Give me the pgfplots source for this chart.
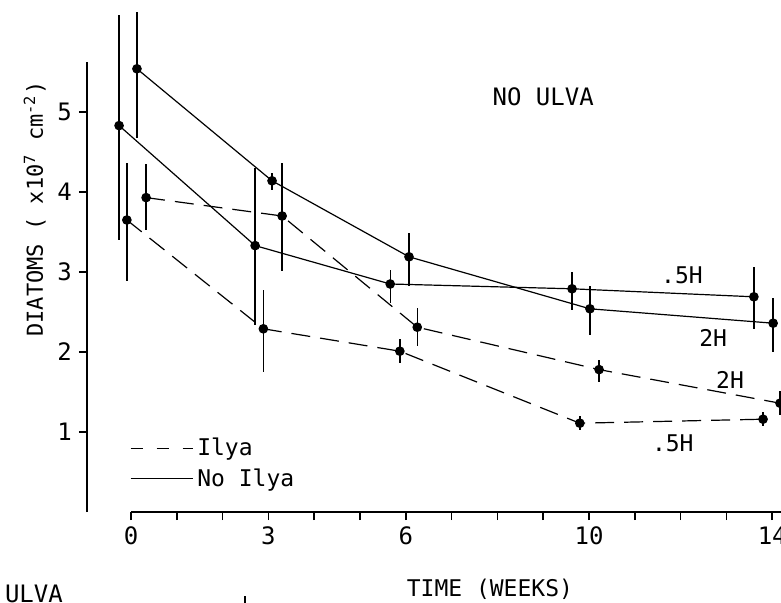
\documentclass[border=0pt]{standalone}
\usepackage{fontspec}
\setmainfont{DejaVu Sans Mono}
\usepackage{pgfplots}
\pgfplotsset{compat=1.18}
\usepackage{pgfplotstable}

% Diatom density (x10^7 cm^-2) against time (weeks); ep/em = error above/below
\pgfplotstableread{
x     y     ep    em
-0.26 4.83  1.38  1.43
2.71  3.33  0.97  0.99
5.66  2.85  0.18  0.24
9.63  2.79  0.21  0.26
13.60 2.69  0.37  0.40
}\noIlyaHalf

\pgfplotstableread{
x     y     ep    em
0.13  5.54  0.71  0.86
3.08  4.14  0.10  0.12
6.07  3.19  0.30  0.36
10.02 2.54  0.29  0.33
14.02 2.36  0.32  0.36
}\noIlyaTwo

\pgfplotstableread{
x     y     ep    em
-0.09 3.65  0.71  0.76
2.89  2.29  0.49  0.54
5.87  2.01  0.15  0.15
9.80  1.11  0.09  0.09
13.80 1.16  0.09  0.09
}\ilyaHalf

\pgfplotstableread{
x     y     ep    em
0.33  3.93  0.42  0.41
3.30  3.70  0.66  0.69
6.25  2.31  0.24  0.23
10.22 1.78  0.12  0.15
14.17 1.36  0.15  0.15
}\ilyaTwo

\begin{document}
\begin{tikzpicture}
\begin{axis}[
  x=22.9pt, y=40pt,
  xmin=0, xmax=14.3, ymin=0, ymax=5.625,
  axis lines*=left,
  axis y line shift=22pt,
  axis line style={line width=0.8pt},
  tick align=outside,
  major tick length=4pt, minor tick length=4pt,
  every tick/.style={line width=0.8pt, black},
  xtick={0,3,6,10,14},
  minor xtick={1,2,4,5,7,8,9,11,12,13},
  ytick={1,2,3,4,5},
  clip=false,
  font=\fontsize{11.5}{13}\selectfont,
  tick label style={font=\fontsize{12}{13}\selectfont},
  /pgf/number format/assume math mode=true,
  xlabel={TIME (WEEKS)},
  every axis x label/.style={at={(axis description cs:0.548,-0.171)}, anchor=center},
  ylabel={DIATOMS ( x10\textsuperscript{7} cm\textsuperscript{-2})},
  every axis y label/.style={at={(axis description cs:-0.1344,0.673)}, anchor=base, rotate=90, font=\fontsize{11}{12}\selectfont},
  legend style={draw=none, fill=none, at={(-0.002,0.108)}, anchor=west,
                inner sep=0pt, row sep=1pt, nodes={inner sep=2pt},
                font=\fontsize{11.5}{13}\selectfont},
  legend cell align=left,
  legend image code/.code={\draw[#1] (0pt,0pt) -- (31pt,0pt);},
  every axis plot/.append style={line width=0.6pt, black},
]
\addlegendimage{dash pattern=on 6pt off 7pt, line width=0.6pt}
\addlegendentry{Ilya}
\addlegendimage{line width=0.6pt}
\addlegendentry{No Ilya}

\pgfplotsset{
  pts/.style={mark=*, mark size=2.1pt, mark options={solid, fill=black},
    forget plot,
    error bars/y dir=both, error bars/y explicit, error bars/error mark=none,
    error bars/error bar style={solid, line width=0.7pt}},
}

\addplot[pts] table[x=x, y=y, y error plus=ep, y error minus=em]{\noIlyaHalf};
\addplot[pts] table[x=x, y=y, y error plus=ep, y error minus=em]{\noIlyaTwo};
\addplot[dash pattern=on 9.5pt off 5pt, pts] table[x=x, y=y, y error plus=ep, y error minus=em]{\ilyaHalf};
\addplot[dash pattern=on 9.5pt off 5pt, pts] table[x=x, y=y, y error plus=ep, y error minus=em]{\ilyaTwo};

\node[font=\fontsize{12}{13}\selectfont] at (axis cs:9.0,5.19) {NO ULVA};
\node at (axis cs:12.03,2.96) {.5H};
\node at (axis cs:12.71,2.18) {2H};
\node at (axis cs:13.08,1.65) {2H};
\node at (axis cs:11.83,0.86) {.5H};

\node[anchor=north east, inner sep=0pt, font=\fontsize{12}{13}\selectfont] at (axis cs:-1.48,-0.91) {ULVA};
\draw[line width=0.6pt] (axis cs:2.49,-1.05) -- (axis cs:2.49,-1.2);

\coordinate (bl) at (axis cs:-2.860,-1.125);
\coordinate (tr) at (axis cs:14.192,6.4);
\end{axis}
\pgfresetboundingbox
\useasboundingbox (bl) rectangle (tr);
\end{tikzpicture}
\end{document}
